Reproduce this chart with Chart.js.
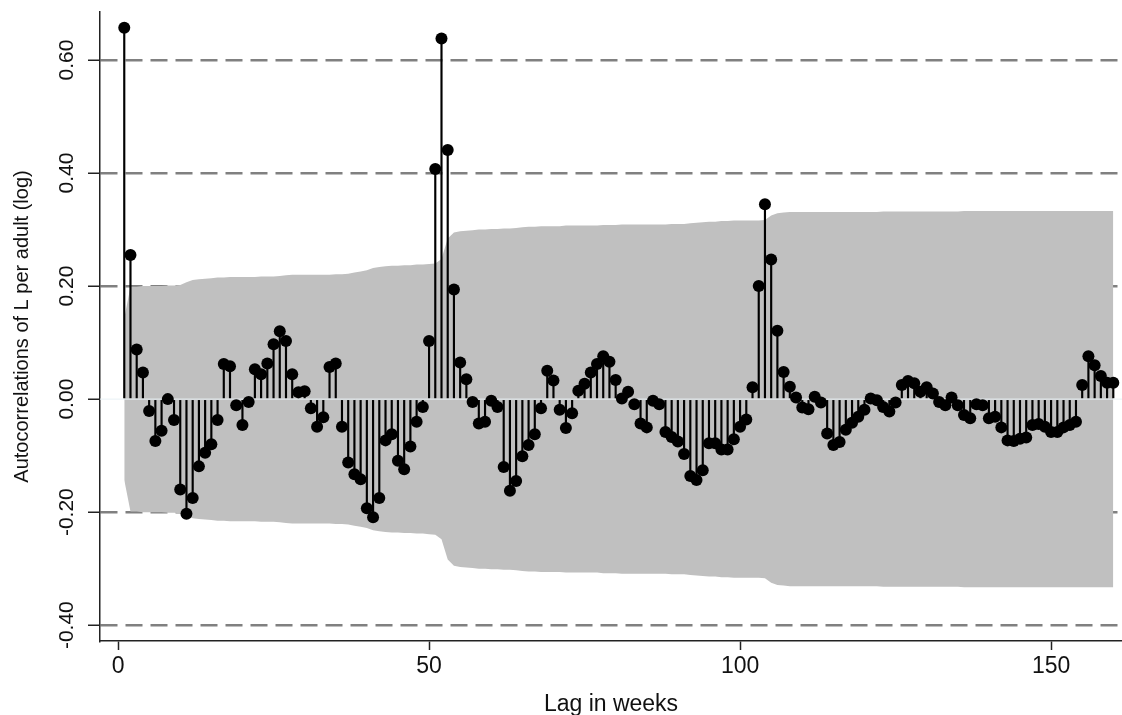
<!DOCTYPE html>
<html>
<head>
<meta charset="utf-8">
<script src="https://cdn.jsdelivr.net/npm/chart.js@4.4.1/dist/chart.umd.min.js"></script>
<style>
  html, body { margin: 0; padding: 0; background: #fff; }
  #acfChart { display: block; }
</style>
</head>
<body>
<canvas id="acfChart" width="1122" height="715"></canvas>
<script>
// autocorrelations, lags 1..160
const acf = [
  0.657, 0.255, 0.088, 0.047, -0.021, -0.074, -0.056, 0.000, -0.037, -0.160,
  -0.203, -0.175, -0.119, -0.095, -0.080, -0.037, 0.062, 0.058, -0.011, -0.046,
  -0.005, 0.053, 0.044, 0.063, 0.097, 0.120, 0.103, 0.044, 0.012, 0.014,
  -0.016, -0.049, -0.032, 0.057, 0.063, -0.049, -0.112, -0.133, -0.142, -0.193,
  -0.209, -0.175, -0.073, -0.062, -0.109, -0.124, -0.084, -0.040, -0.014, 0.103,
  0.407, 0.638, 0.441, 0.194, 0.065, 0.035, -0.005, -0.043, -0.040, -0.003,
  -0.014, -0.120, -0.162, -0.145, -0.101, -0.081, -0.062, -0.016, 0.050, 0.033,
  -0.019, -0.051, -0.025, 0.015, 0.027, 0.047, 0.062, 0.076, 0.066, 0.034,
  0.001, 0.013, -0.009, -0.043, -0.050, -0.003, -0.009, -0.058, -0.067, -0.075,
  -0.097, -0.136, -0.143, -0.126, -0.078, -0.078, -0.089, -0.089, -0.071, -0.049,
  -0.036, 0.021, 0.200, 0.345, 0.247, 0.121, 0.048, 0.022, 0.003, -0.015,
  -0.018, 0.004, -0.006, -0.061, -0.081, -0.076, -0.054, -0.042, -0.031, -0.019,
  0.001, -0.002, -0.014, -0.022, -0.006, 0.025, 0.032, 0.028, 0.013, 0.021,
  0.010, -0.005, -0.011, 0.003, -0.011, -0.028, -0.034, -0.009, -0.011, -0.034,
  -0.031, -0.050, -0.073, -0.074, -0.070, -0.068, -0.046, -0.044, -0.049, -0.058,
  -0.058, -0.050, -0.046, -0.040, 0.025, 0.076, 0.060, 0.041, 0.029, 0.029
];

// half-width of the 95% confidence band (upper edge), lags 1..160
const ciBand = [
  0.143, 0.199, 0.199, 0.200, 0.200, 0.200, 0.200, 0.201, 0.201, 0.202,
  0.207, 0.211, 0.212, 0.213, 0.214, 0.215, 0.215, 0.216, 0.216, 0.216,
  0.216, 0.216, 0.217, 0.217, 0.217, 0.218, 0.219, 0.220, 0.220, 0.220,
  0.220, 0.220, 0.220, 0.220, 0.221, 0.221, 0.222, 0.224, 0.226, 0.228,
  0.232, 0.234, 0.235, 0.236, 0.236, 0.237, 0.237, 0.238, 0.238, 0.239,
  0.240, 0.248, 0.284, 0.295, 0.297, 0.298, 0.299, 0.300, 0.300, 0.301,
  0.301, 0.302, 0.302, 0.303, 0.304, 0.305, 0.305, 0.306, 0.306, 0.306,
  0.306, 0.307, 0.307, 0.307, 0.307, 0.307, 0.307, 0.308, 0.308, 0.308,
  0.309, 0.309, 0.309, 0.309, 0.309, 0.309, 0.309, 0.309, 0.310, 0.310,
  0.310, 0.311, 0.312, 0.313, 0.314, 0.314, 0.315, 0.315, 0.316, 0.316,
  0.316, 0.316, 0.316, 0.317, 0.325, 0.329, 0.330, 0.331, 0.331, 0.331,
  0.331, 0.331, 0.331, 0.331, 0.331, 0.331, 0.331, 0.331, 0.331, 0.331,
  0.331, 0.331, 0.332, 0.332, 0.332, 0.332, 0.332, 0.332, 0.332, 0.332,
  0.332, 0.332, 0.332, 0.332, 0.332, 0.333, 0.333, 0.333, 0.333, 0.333,
  0.333, 0.333, 0.333, 0.333, 0.333, 0.333, 0.333, 0.333, 0.333, 0.333,
  0.333, 0.333, 0.333, 0.333, 0.333, 0.333, 0.333, 0.333, 0.333, 0.333
];

const xTitle = 'Lag in weeks';
const yTitle = 'Autocorrelations of L per adult (log)';

const FONT = "'Liberation Sans', Arial, sans-serif";

const points = acf.map((v, i) => ({ x: i + 1, y: v }));
const upper = ciBand.map((v, i) => ({ x: i + 1, y: v }));
const lower = ciBand.map((v, i) => ({ x: i + 1, y: -v }));

const ctx = document.getElementById('acfChart').getContext('2d');
const acfChart = new Chart(ctx, {
  data: {
    datasets: [
      {
        type: 'scatter',
        data: points,
        pointRadius: 6,
        pointBackgroundColor: '#000',
        pointBorderWidth: 0,
        order: 0
      },
      {
        type: 'bar',
        data: points,
        backgroundColor: '#000',
        barThickness: 1.5,
        order: 1
      },
      {
        type: 'line',
        data: [{ x: -3, y: 0 }, { x: 162, y: 0 }],
        borderColor: '#e9f1f5',
        borderWidth: 1,
        pointRadius: 0,
        order: 2
      },
      {
        type: 'line',
        data: upper,
        borderWidth: 0,
        pointRadius: 0,
        backgroundColor: '#c0c0c0',
        fill: '+1',
        order: 3
      },
      {
        type: 'line',
        data: lower,
        borderWidth: 0,
        pointRadius: 0,
        backgroundColor: '#c0c0c0',
        fill: false,
        order: 4
      }
    ]
  },
  options: {
    responsive: false,
    devicePixelRatio: 1,
    animation: false,
    layout: { autoPadding: false, padding: { top: 12, right: 0, left: 0, bottom: 0 } },
    plugins: { legend: { display: false }, tooltip: { enabled: false } },
    scales: {
      x: {
        type: 'linear',
        min: -2.9,
        max: 161.4,
        offset: false,
        grid: { offset: false, drawOnChartArea: false, tickLength: 9, tickColor: '#222', tickWidth: 1.5 },
        border: { color: '#222', width: 1.5 },
        ticks: { stepSize: 50, includeBounds: false, color: '#111', padding: 3, font: { family: FONT, size: 23 } },
        title: { display: true, text: xTitle, color: '#111', font: { family: FONT, size: 23, lineHeight: 0.9 }, padding: { top: 0, bottom: 0 } },
        afterFit: (scale) => { scale.height = 74; }
      },
      y: {
        type: 'linear',
        min: -0.428,
        max: 0.685,
        grid: {
          color: (c) => (c.tick && Math.abs(c.tick.value) < 1e-9 ? 'rgba(0,0,0,0)' : '#808080'),
          lineWidth: 2.5,
          tickLength: 12,
          tickColor: '#222',
          tickWidth: 1.5
        },
        border: { color: '#222', width: 1.5, dash: [17, 8] },
        ticks: {
          stepSize: 0.2,
          includeBounds: false,
          minRotation: 90,
          maxRotation: 90,
          crossAlign: 'center',
          padding: -3,
          color: '#111',
          font: { family: FONT, size: 21 },
          callback: (v) => Number(v).toFixed(2)
        },
        title: { display: true, text: yTitle, color: '#111', font: { family: FONT, size: 20 }, padding: { top: 10, bottom: 0 } },
        afterFit: (scale) => { scale.width = 100; }
      }
    }
  }
});
</script>
</body>
</html>
